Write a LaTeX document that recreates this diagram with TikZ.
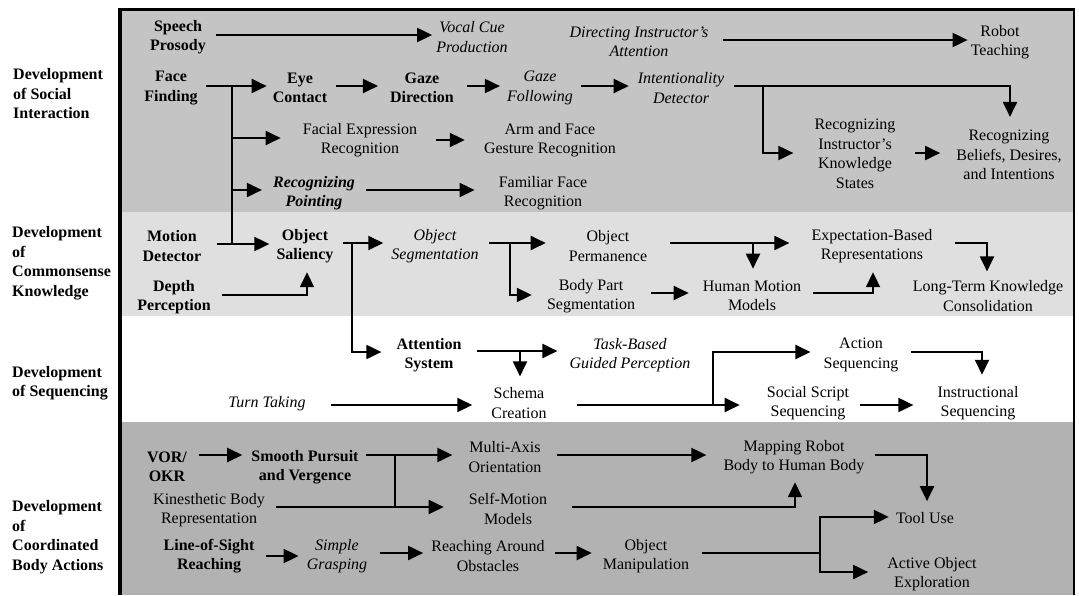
\documentclass[tikz,border=0pt]{standalone}
\usepackage{fontspec}
\setmainfont{Liberation Serif}
\usetikzlibrary{arrows.meta}
\definecolor{bandA}{HTML}{C4C4C4}
\definecolor{bandB}{HTML}{DFDFDF}
\definecolor{bandD}{HTML}{B2B2B2}
\begin{document}
\begin{tikzpicture}[x=1pt,y=-1pt,
  txt/.style={font=\fontsize{16}{19.5}\selectfont, align=center, inner sep=0pt},
  bnode/.style={txt, font=\fontsize{16}{19.5}\selectfont\bfseries},
  inode/.style={txt, font=\fontsize{16}{19.5}\selectfont\itshape},
  binode/.style={txt, font=\fontsize{16}{19.5}\selectfont\bfseries\itshape},
  lab/.style={font=\fontsize{16}{19.5}\selectfont\bfseries, align=left, inner sep=0pt, anchor=west},
  ln/.style={line width=2pt},
  arr/.style={line width=2pt, -{Triangle[length=15pt,width=14pt]}},
]
\useasboundingbox (0,0) rectangle (1079,595);
% bands and frame
\fill[bandA] (122,9) rectangle (1074,212);
\fill[bandB] (122,212) rectangle (1074,316);
\fill[bandD] (122,422) rectangle (1074,595);
\draw[line width=3pt] (119,9) -- (1075,9);
\draw[line width=4pt] (120,7.5) -- (120,595);
\draw[line width=2pt] (1074,7.5) -- (1074,595);

% left labels
\node[lab] (L1) at (13,94) {Development\\of Social\\Interaction};
\node[lab] (L2) at (12,263) {Development\\of\\Commonsense\\Knowledge};
\node[lab] (L3) at (12,383) {Development\\of Sequencing};
\node[lab] (L4) at (12,537) {Development\\of\\Coordinated\\Body Actions};

% band 1
\node[bnode] (sp) at (178,37) {Speech\\Prosody};
\node[inode] (vc) at (472,37) {Vocal Cue\\Production};
\node[inode] (dia) at (639,42) {Directing Instructor’s\\Attention};
\node[txt] (rt) at (1000,42) {Robot\\Teaching};
\node[bnode] (ff) at (171,88) {Face\\Finding};
\node[bnode] (ec) at (300,88) {Eye\\Contact};
\node[bnode] (gd) at (422,88) {Gaze\\Direction};
\node[inode] (gf) at (540,88) {Gaze\\Following};
\node[inode] (id) at (681,88) {Intentionality\\Detector};
\node[txt] (fe) at (360,140) {Facial Expression\\Recognition};
\node[txt] (af) at (550,140) {Arm and Face\\Gesture Recognition};
\node[binode] (rp) at (314,193) {Recognizing\\Pointing};
\node[txt] (fr) at (543,193) {Familiar Face\\Recognition};
\node[txt] (rk) at (855,154) {Recognizing\\Instructor’s\\Knowledge\\States};
\node[txt] (rb) at (1009,155) {Recognizing\\Beliefs, Desires,\\and Intentions};

% band 2
\node[bnode] (md) at (172,246) {Motion\\Detector};
\node[bnode] (os) at (305,246) {Object\\Saliency};
\node[bnode] (dp) at (174,297) {Depth\\Perception};
\node[inode] (oseg) at (435,246) {Object\\Segmentation};
\node[txt] (op) at (608,246) {Object\\Permanence};
\node[txt] (bp) at (591,296) {Body Part\\Segmentation};
\node[txt] (hm) at (752,296) {Human Motion\\Models};
\node[txt] (eb) at (872,246) {Expectation-Based\\Representations};
\node[txt] (lt) at (988,296) {Long-Term Knowledge\\Consolidation};

% band 3
\node[bnode] (as) at (429,355) {Attention\\System};
\node[inode] (tb) at (630,355) {Task-Based\\Guided Perception};
\node[txt] (sc) at (519,403) {Schema\\Creation};
\node[inode] (tt) at (267,404) {Turn Taking};
\node[txt] (acs) at (861,355) {Action\\Sequencing};
\node[txt] (ss) at (808,403) {Social Script\\Sequencing};
\node[txt] (is) at (978,403) {Instructional\\Sequencing};

% band 4
\node[bnode] (vor) at (167,467) {VOR/\\OKR};
\node[bnode] (spv) at (305,467) {Smooth Pursuit\\and Vergence};
\node[txt] (kb) at (209,510) {Kinesthetic Body\\Representation};
\node[bnode] (ls) at (209,556) {Line-of-Sight\\Reaching};
\node[inode] (sg) at (337,556) {Simple\\Grasping};
\node[txt] (ma) at (505,457) {Multi-Axis\\Orientation};
\node[txt] (sm) at (508,509) {Self-Motion\\Models};
\node[txt] (ra) at (488,556) {Reaching Around\\Obstacles};
\node[txt] (om) at (646,556) {Object\\Manipulation};
\node[txt] (mr) at (794,457) {Mapping Robot\\Body to Human Body};
\node[txt] (tu) at (925,518) {Tool Use};
\node[txt] (ao) at (932,574) {Active Object\\Exploration};

% junction coordinates
\coordinate (j1) at (232,86);
\coordinate (j1e) at (232,244);
\coordinate (j8) at (763,86);
\coordinate (j17) at (352,243);
\coordinate (j19) at (510,243);
\coordinate (j22) at (753,243);
\coordinate (j26) at (520,351);
\coordinate (j28) at (713,405);
\coordinate (j33a) at (395,455);
\coordinate (j33b) at (395,507);
\coordinate (j41) at (820,553);

% band 1 connectors
\draw[arr] ([xshift=10pt]sp.east |- 0,35) -- ([xshift=-4pt]vc.west |- 0,35);
\draw[arr] ([xshift=14pt]dia.east |- 0,40) -- ([xshift=-3pt]rt.west |- 0,40);
\draw[arr] ([xshift=8pt]ff.east |- 0,86) -- ([xshift=-6pt]ec.west |- 0,86);
\draw[arr] ([xshift=9pt]ec.east |- 0,86) -- ([xshift=-12pt]gd.west |- 0,86);
\draw[arr] ([xshift=13pt]gd.east |- 0,86) -- ([xshift=-7pt]gf.west |- 0,86);
\draw[arr] ([xshift=8pt]gf.east |- 0,86) -- ([xshift=-9pt]id.west |- 0,86);
\draw[arr] ([xshift=10pt]id.east |- 0,86) -| ([xshift=1pt,yshift=13pt]rb.north);
\draw[arr] (j8) |- ([xshift=-21pt]rk.west |- 0,153);
\draw[arr] ([xshift=19pt]rk.east |- 0,153) -- ([xshift=-16pt]rb.west |- 0,153);
\draw[ln] (j1) -- (j1e);
\draw[arr] (j1) |- ([xshift=-22pt]fe.west |- 0,138);
\draw[arr] (j1) |- ([xshift=-11pt]rp.west |- 0,190);
\draw[arr] ([xshift=19pt]fe.east |- 0,140) -- ([xshift=-19pt]af.west |- 0,140);
\draw[arr] ([xshift=11pt]rp.east |- 0,190) -- ([xshift=-24pt]fr.west |- 0,190);

% band 2 connectors
\draw[arr] ([xshift=15pt]md.east |- 0,244) -- ([xshift=-7pt]os.west |- 0,244);
\draw[arr] ([xshift=11pt]dp.east |- 0,295) -| ([xshift=2pt,yshift=-9pt]os.south);
\draw[arr] ([xshift=9pt]os.east |- 0,243) -- ([xshift=-8pt]oseg.west |- 0,243);
\draw[arr] (j17) |- ([xshift=-15pt]as.west |- 0,352);
\draw[arr] ([xshift=10pt]oseg.east |- 0,243) -- ([xshift=-23pt]op.west |- 0,243);
\draw[arr] (j19) |- ([xshift=-15pt]bp.west |- 0,295);
\draw[arr] ([xshift=16pt]bp.east |- 0,293) -- ([xshift=-14pt]hm.west |- 0,293);
\draw[arr] ([xshift=23pt]op.east |- 0,243) -- ([xshift=-22pt]eb.west |- 0,243);
\draw[arr] (j22) -- ([yshift=12pt]j22 |- hm.north);
\draw[arr] ([xshift=12pt]hm.east |- 0,293) -| ([xshift=1pt,yshift=-9pt]eb.south);
\draw[arr] ([xshift=22pt]eb.east |- 0,243) -| ([xshift=-1pt,yshift=9pt]lt.north);

% band 3 connectors
\draw[arr] ([xshift=15pt]as.east |- 0,351) -- ([xshift=-12pt]tb.west |- 0,351);
\draw[arr] (j26) -- ([yshift=11pt]j26 |- sc.north);
\draw[arr] ([xshift=25pt]tt.east |- 0,405) -- ([xshift=-19pt]sc.west |- 0,405);
\draw[ln] ([xshift=30pt]sc.east |- 0,405) -- (j28);
\draw[arr] (j28) |- ([xshift=-13pt]acs.west |- 0,352);
\draw[arr] (j28) -- ([xshift=-27pt]ss.west |- 0,405);
\draw[arr] ([xshift=12pt]acs.east |- 0,352) -| ([xshift=4pt,yshift=11pt]is.north);
\draw[arr] ([xshift=11pt]ss.east |- 0,405) -- ([xshift=-24pt]is.west |- 0,405);

% band 4 connectors
\draw[arr] ([xshift=12pt]vor.east |- 0,455) -- ([xshift=-9pt]spv.west |- 0,455);
\draw[arr] ([xshift=7pt]spv.east |- 0,455) -- ([xshift=-16pt]ma.west |- 0,455);
\draw[ln] (j33a) -- (j33b);
\draw[arr] ([xshift=11pt]kb.east |- 0,507) -- ([xshift=-25pt]sm.west |- 0,507);
\draw[arr] ([xshift=15pt]ma.east |- 0,455) -- ([xshift=-17pt]mr.west |- 0,455);
\draw[arr] ([xshift=25pt]sm.east |- 0,507) -| ([xshift=1pt,yshift=-8pt]mr.south);
\draw[arr] ([xshift=10pt]mr.east |- 0,455) -| ([xshift=2pt,yshift=11pt]tu.north);
\draw[arr] ([xshift=11pt]ls.east |- 0,556) -- ([xshift=-8pt]sg.west |- 0,556);
\draw[arr] ([xshift=13pt]sg.east |- 0,553) -- ([xshift=-8pt]ra.west |- 0,553);
\draw[arr] ([xshift=10pt]ra.east |- 0,553) -- ([xshift=-11pt]om.west |- 0,553);
\draw[ln] ([xshift=13pt]om.east |- 0,553) -- (j41);
\draw[arr] (j41) |- ([xshift=-7pt]tu.west |- 0,517);
\draw[arr] (j41) |- ([xshift=-19pt]ao.west |- 0,572);
\end{tikzpicture}
\end{document}
